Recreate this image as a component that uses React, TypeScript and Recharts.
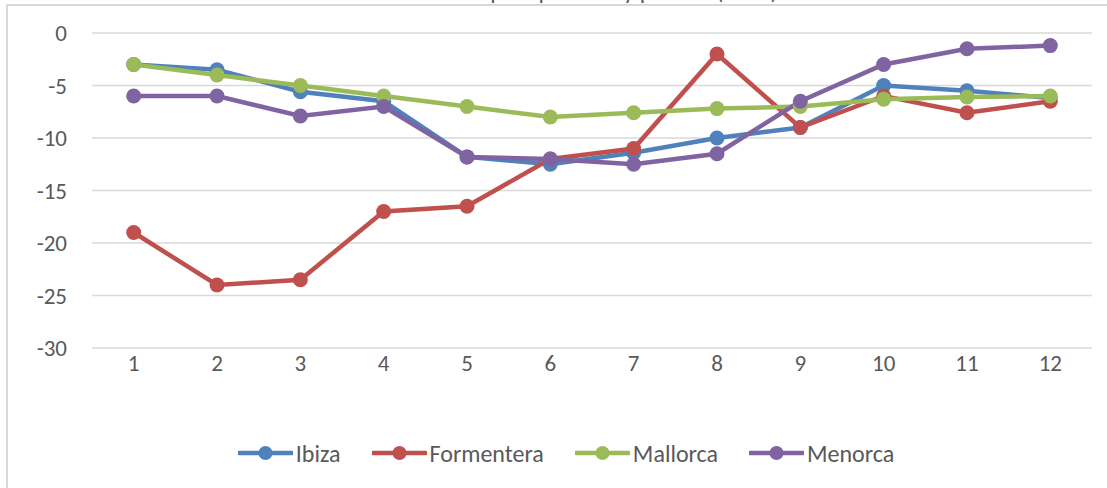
import React from 'react';
import { LineChart, Line, XAxis, YAxis, CartesianGrid, Legend } from 'recharts';

const months = ['1', '2', '3', '4', '5', '6', '7', '8', '9', '10', '11', '12'];
const ibiza = [-3, -3.5, -5.6, -6.5, -11.8, -12.5, -11.4, -10, -9, -5, -5.5, -6.2];
const formentera = [-19, -24, -23.5, -17, -16.5, -12, -11, -2, -9, -6, -7.6, -6.5];
const mallorca = [-3, -4, -5, -6, -7, -8, -7.6, -7.2, -7, -6.3, -6.1, -6];
const menorca = [-6, -6, -7.9, -7, -11.8, -12, -12.5, -11.5, -6.5, -3, -1.5, -1.2];
const yTicks = [0, -5, -10, -15, -20, -25, -30];

const seriesNames = ['Ibiza', 'Formentera', 'Mallorca', 'Menorca'];
const seriesValues = [ibiza, formentera, mallorca, menorca];
const seriesColors = ['#4F81BD', '#C0504D', '#9BBB59', '#8064A2'];
const title = 'Variación del empleo por mes y por isla (en %)';

const data = months.map((m, i) => {
  const row: Record<string, string | number> = { month: m };
  seriesNames.forEach((n, k) => {
    row[n] = seriesValues[k][i];
  });
  return row;
});

const FONT = 'Carlito, Calibri, Lato, sans-serif';
const TEXT = '#595959';

const LegendContent = (props: any) => {
  const payload = [...(props.payload || [])].sort(
    (a: any, b: any) => seriesNames.indexOf(a.value) - seriesNames.indexOf(b.value)
  );
  return (
    <div style={{ display: 'flex', justifyContent: 'center', alignItems: 'center', height: 40, fontFamily: FONT, paddingLeft: 40 }}>
      {payload.map((p: any, i: number) => (
        <div key={i} style={{ display: 'flex', alignItems: 'center', marginLeft: i === 0 ? 0 : 31 }}>
          <svg width={55} height={16} style={{ display: 'block' }}>
            <line x1={1} y1={8} x2={54} y2={8} stroke={p.color} strokeWidth={4.5} strokeLinecap="round" />
            <circle cx={27.5} cy={8} r={7} fill={p.color} />
          </svg>
          <span style={{ fontSize: 24, color: TEXT, marginLeft: 3 }}>{p.value}</span>
        </div>
      ))}
    </div>
  );
};

export default function App() {
  return (
    <div style={{ position: 'fixed', left: 0, top: 0, width: 1107, height: 488, overflow: 'hidden', background: '#fff' }}>
      <div style={{ position: 'absolute', left: 6, top: 4, width: 1150, height: 560, border: '2px solid #D9D9D9' }} />
      <svg width={1107} height={10} style={{ position: 'absolute', left: 0, top: 0 }}>
        <text x={553} y={-1} textAnchor="middle" fontFamily={FONT} fontSize={24} fill={TEXT}>{title}</text>
      </svg>
      <div style={{ position: 'absolute', left: 0, top: 0 }}>
        <LineChart width={1107} height={488} data={data} margin={{ top: 33, right: 15, bottom: 15, left: 0 }}>
          <CartesianGrid vertical={false} stroke="#D9D9D9" strokeWidth={1.5} />
          <XAxis
            dataKey="month"
            axisLine={false}
            tickLine={false}
            height={85}
            padding={{ left: 41.7, right: 41.7 }}
            tick={{ fill: TEXT, fontSize: 23, fontFamily: FONT }}
            tickMargin={1}
          />
          <YAxis
            domain={[-30, 0]}
            ticks={yTicks}
            interval={0}
            axisLine={false}
            tickLine={false}
            width={92}
            tick={{ fill: TEXT, fontSize: 23, fontFamily: FONT }}
            tickMargin={19}
          />
          <Legend verticalAlign="bottom" height={40} content={<LegendContent />} />
          {seriesNames.map((n, k) => (
            <Line
              key={n}
              type="linear"
              dataKey={n}
              name={n}
              stroke={seriesColors[k]}
              strokeWidth={4.5}
              dot={{ r: 7.5, fill: seriesColors[k], stroke: seriesColors[k], strokeWidth: 0 }}
              activeDot={false}
              isAnimationActive={false}
            />
          ))}
        </LineChart>
      </div>
    </div>
  );
}
